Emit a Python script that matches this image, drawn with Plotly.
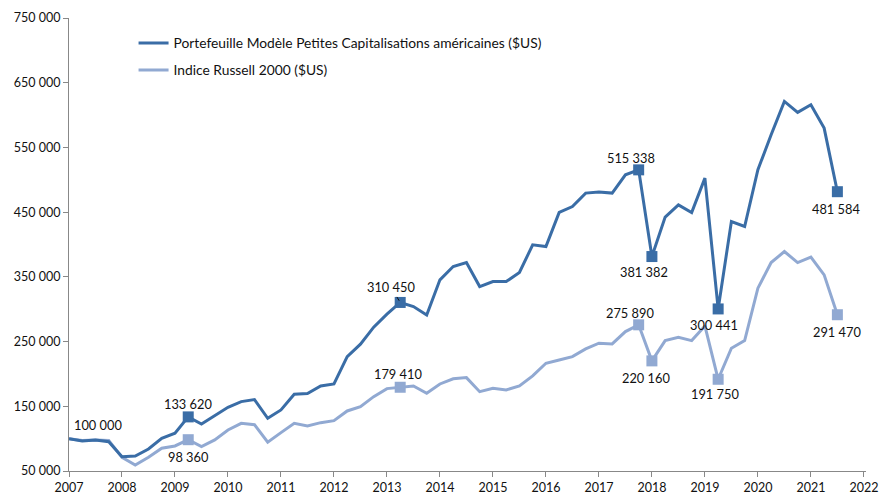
import plotly.graph_objects as go

# ---- data ----
quarters = [2007 + 0.25 * i for i in range(59)]
portfolio = [100000, 96400, 98000, 95300, 72000, 73200, 84000, 100600, 108300, 133620,
             122700, 136000, 148500, 157200, 160300, 131500, 144300, 168600, 169600, 181400,
             184500, 226800, 245900, 272200, 292300, 310450, 304100, 291200, 345400, 366000,
             372100, 335000, 342700, 342700, 356700, 399500, 396900, 449500, 458700, 479400,
             481000, 479400, 507700, 515338, 381382, 442300, 461300, 449500, 502600, 300441,
             435500, 427800, 515500, 569600, 621100, 604100, 616000, 579900, 481584]
russell = [100000, 97000, 98000, 97000, 71000, 59300, 71200, 85100, 88700, 98360,
           87600, 98000, 113400, 123700, 121600, 94400, 109300, 123700, 119600, 124700,
           127800, 142800, 149400, 164900, 177300, 179410, 181400, 170100, 184500, 192500,
           194300, 172600, 177900, 175300, 181400, 196900, 216500, 221600, 226800, 238700,
           247500, 246400, 265400, 275890, 220160, 251500, 256700, 251500, 274200, 191750,
           239700, 251500, 332500, 372100, 389100, 372100, 380400, 353100, 291470]
name_portfolio = "Portefeuille Modèle Petites Capitalisations américaines ($US)"
name_russell = "Indice Russell 2000 ($US)"
marked = [9, 25, 43, 44, 49, 58]
year_ticks = list(range(2007, 2023))
y_ticks = [50000, 150000, 250000, 350000, 450000, 550000, 650000, 750000]

DARK = "#3A6DA6"
LIGHT = "#91A9D2"
FONT = "Lato"
LBL = 12.8


def fmt(v):
    return f"{v:,}".replace(",", " ")


fig = go.Figure()
fig.add_trace(go.Scatter(x=quarters, y=russell, mode="lines", name=name_russell,
                         line=dict(color=LIGHT, width=3), legendgroup="b", legendrank=2))
fig.add_trace(go.Scatter(x=quarters, y=portfolio, mode="lines", name=name_portfolio,
                         line=dict(color=DARK, width=3), legendgroup="a", legendrank=1))
fig.add_trace(go.Scatter(x=[quarters[i] for i in marked], y=[russell[i] for i in marked],
                         mode="markers", showlegend=False,
                         marker=dict(symbol="square", size=11, color=LIGHT)))
fig.add_trace(go.Scatter(x=[quarters[i] for i in marked], y=[portfolio[i] for i in marked],
                         mode="markers", showlegend=False,
                         marker=dict(symbol="square", size=11, color=DARK)))

# label offsets in pixels (dx, dy up-positive)
labels_port = {9: (0, 13), 25: None, 43: (-8, 12), 44: (-8, -15), 49: (-4, -16), 58: (-1, -17)}
labels_russ = {9: (0, -17), 25: (-2, 13), 43: (-9, 12), 44: (-6, -17), 49: (-3, -15), 58: (0, -17)}

for i, off in labels_port.items():
    if off is None:
        continue
    fig.add_annotation(x=quarters[i], y=portfolio[i], text=fmt(portfolio[i]), showarrow=False,
                       xshift=off[0], yshift=off[1], font=dict(family=FONT, size=LBL, color="#111"))
for i, off in labels_russ.items():
    fig.add_annotation(x=quarters[i], y=russell[i], text=fmt(russell[i]), showarrow=False,
                       xshift=off[0], yshift=off[1], font=dict(family=FONT, size=LBL, color="#111"))
# label with leader line
fig.add_annotation(x=quarters[25], y=portfolio[25], text=fmt(portfolio[25]), showarrow=True,
                   arrowhead=0, arrowwidth=1, arrowcolor="#111", ax=-9, ay=-15, standoff=2,
                   font=dict(family=FONT, size=LBL, color="#111"))
# starting value label
fig.add_annotation(x=quarters[0], y=portfolio[0], text=fmt(portfolio[0]), showarrow=False,
                   xshift=29, yshift=14, font=dict(family=FONT, size=LBL, color="#111"))

fig.update_layout(
    width=879, height=496,
    margin=dict(l=69, r=13, t=18, b=25, autoexpand=False),
    paper_bgcolor="white", plot_bgcolor="white",
    font=dict(family=FONT, size=12, color="#222"),
    showlegend=True,
    legend=dict(x=0.081, y=0.979, xanchor="left", yanchor="top", bgcolor="rgba(0,0,0,0)",
                font=dict(family=FONT, size=13.8, color="#111"), tracegroupgap=6,
                traceorder="grouped"),
    xaxis=dict(range=[2007, 2022.04], tickvals=year_ticks, ticktext=[str(y) for y in year_ticks],
               showgrid=False, zeroline=False, showline=True, linecolor="#888", linewidth=1,
               ticks="outside", ticklen=5, tickcolor="#888", automargin=False,
               tickfont=dict(family=FONT, size=12.5, color="#111")),
    yaxis=dict(range=[50000, 750000], tickvals=y_ticks, ticktext=[fmt(v) for v in y_ticks],
               showgrid=False, zeroline=False, showline=True, linecolor="#888", linewidth=1,
               ticks="outside", ticklen=5, tickcolor="#888", automargin=False,
               tickfont=dict(family=FONT, size=12.5, color="#111")),
)

fig.write_html("out.html", config={"displayModeBar": False},
               post_script="document.body.style.margin='0';")
